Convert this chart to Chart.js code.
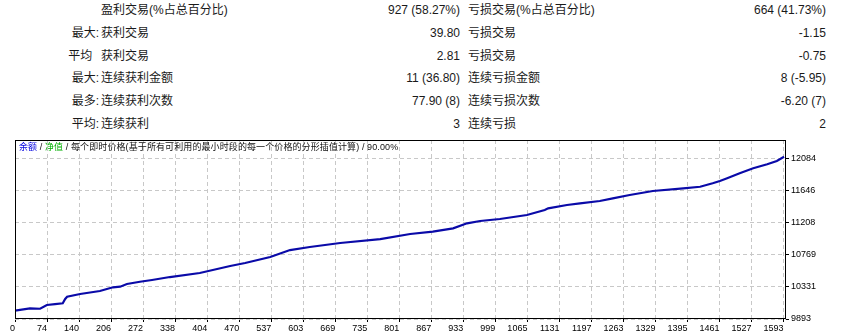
<!DOCTYPE html>
<html>
<head>
<meta charset="utf-8">
<script src="https://cdn.jsdelivr.net/npm/chart.js@4"></script>
<style>
  body { margin: 0; width: 847px; height: 336px; background: #fff; position: relative; overflow: hidden;
         font-family: "Liberation Sans", "Noto Sans CJK SC", sans-serif; font-size: 12px; color: #1a1a1a; }
  .cell { position: absolute; white-space: pre; line-height: 16px; }
  .r { text-align: right; }
  #title { position: absolute; left: 19px; top: 141px; font-size: 9px; line-height: 12px; letter-spacing: 0.1px;
           white-space: pre; color: #111; z-index: 2; }
  #wrap { position: absolute; left: 0; top: 130px; width: 847px; height: 206px; }
</style>
</head>
<body>
<div id="stats"></div>
<div id="title"><span style="color:#0000e0">余额</span> / <span style="color:#00b000">净值</span> / 每个即时价格(基于所有可利用的最小时段的每一个价格的分形插值计算) / 90.00%</div>
<div id="wrap"><canvas id="chartCanvas"></canvas></div>
<script>
// stats table
var prefixes = ['', '最大:', '平均\u00a0\u00a0', '最大:', '最多:', '平均:'];
var winLabels = ['盈利交易(%占总百分比)', '获利交易', '获利交易', '连续获利金额', '连续获利次数', '连续获利'];
var winValues = ['927 (58.27%)', '39.80', '2.81', '11 (36.80)', '77.90 (8)', '3'];
var lossLabels = ['亏损交易(%占总百分比)', '亏损交易', '亏损交易', '连续亏损金额', '连续亏损次数', '连续亏损'];
var lossValues = ['664 (41.73%)', '-1.15', '-0.75', '8 (-5.95)', '-6.20 (7)', '2'];

// balance curve (trade number -> balance)
var tradeNo = [0, 31, 52, 66, 83, 99, 104, 108, 135, 176, 203, 218, 232, 259, 284, 321, 383, 446, 477, 529,
  570, 611, 674, 757, 819, 866, 908, 937, 964, 1005, 1061, 1098, 1105, 1144, 1171, 1212, 1239, 1274, 1322,
  1385, 1420, 1446, 1461, 1476, 1502, 1530, 1559, 1579, 1594];
var balance = [10006, 10039, 10033, 10084, 10097, 10107, 10166, 10197, 10234, 10275, 10325, 10333, 10370, 10401,
  10425, 10465, 10520, 10615, 10656, 10738, 10833, 10874, 10929, 10983, 11052, 11083, 11129, 11197, 11229,
  11256, 11311, 11379, 11402, 11447, 11470, 11501, 11538, 11583, 11638, 11674, 11696, 11743, 11774, 11811,
  11879, 11947, 12002, 12047, 12105];

var xLabels = ['0', '74', '140', '206', '272', '338', '404', '470', '537', '603', '669', '735', '801', '867',
  '933', '999', '1065', '1131', '1197', '1263', '1329', '1395', '1461', '1527', '1593'];
var yLabels = ['9893', '10331', '10769', '11208', '11646', '12084'];

var xMax = 1598, xStep = 1593 / 24;
var yMin = 9893, yMax = 12333, yStep = (12084 - 9893) / 5;

// build the table
var stats = document.getElementById('stats');
function addCell(text, x, y, right) {
  var d = document.createElement('div');
  d.className = 'cell' + (right ? ' r' : '');
  d.textContent = text;
  if (right) { d.style.right = (847 - x) + 'px'; } else { d.style.left = x + 'px'; }
  d.style.top = y + 'px';
  stats.appendChild(d);
}
for (var i = 0; i < prefixes.length; i++) {
  var y = 2 + i * 22.8;
  addCell(prefixes[i], 99, y, true);
  addCell(winLabels[i], 101, y, false);
  addCell(winValues[i], 460, y, true);
  addCell(lossLabels[i], 468, y, false);
  addCell(lossValues[i], 826, y, true);
}

var points = [];
for (var k = 0; k < tradeNo.length; k++) {
  points.push({x: tradeNo[k], y: balance[k]});
}

var framePlugin = {
  id: 'frame',
  afterDraw: function(chart) {
    var a = chart.chartArea, ctx = chart.ctx;
    ctx.save();
    ctx.strokeStyle = '#000';
    ctx.lineWidth = 1;
    ctx.strokeRect(Math.round(a.left) + 0.5, Math.round(a.top) + 0.5,
      Math.round(a.right - a.left) - 1, Math.round(a.bottom - a.top) - 1);
    ctx.restore();
  }
};

var tickFont = {family: '"Liberation Sans", sans-serif', size: 9};

new Chart(document.getElementById('chartCanvas'), {
  type: 'line',
  data: {
    datasets: [{
      label: '余额',
      data: points,
      borderColor: '#0a0aa8',
      borderWidth: 2.2,
      pointRadius: 0,
      fill: false,
      tension: 0
    }]
  },
  options: {
    responsive: true,
    maintainAspectRatio: false,
    animation: false,
    layout: {padding: {left: 15, top: 10, right: 0, bottom: 0}},
    plugins: {legend: {display: false}, tooltip: {enabled: false}},
    scales: {
      x: {
        type: 'linear',
        min: 0,
        max: xMax,
        afterBuildTicks: function(scale) {
          scale.ticks = xLabels.map(function(l, i) { return {value: i * xStep}; });
        },
        afterFit: function(scale) { scale.height = 17; },
        ticks: {
          autoSkip: false, maxRotation: 0, align: 'end', padding: 1, color: '#000', font: tickFont,
          callback: function(v, i) { return xLabels[i]; }
        },
        grid: {color: '#c8c8c8', tickLength: 3, tickColor: '#000'},
        border: {display: false, dash: [4, 3]}
      },
      y: {
        position: 'right',
        min: yMin,
        max: yMax,
        afterBuildTicks: function(scale) {
          scale.ticks = yLabels.map(function(l, i) { return {value: yMin + i * yStep}; });
        },
        afterFit: function(scale) { scale.width = 61; },
        ticks: {
          autoSkip: false, padding: 2, color: '#000', font: tickFont,
          callback: function(v, i) { return yLabels[i]; }
        },
        grid: {color: '#c8c8c8', tickLength: 3, tickColor: '#000'},
        border: {display: false, dash: [4, 3]}
      }
    }
  },
  plugins: [framePlugin]
});
</script>
</body>
</html>
